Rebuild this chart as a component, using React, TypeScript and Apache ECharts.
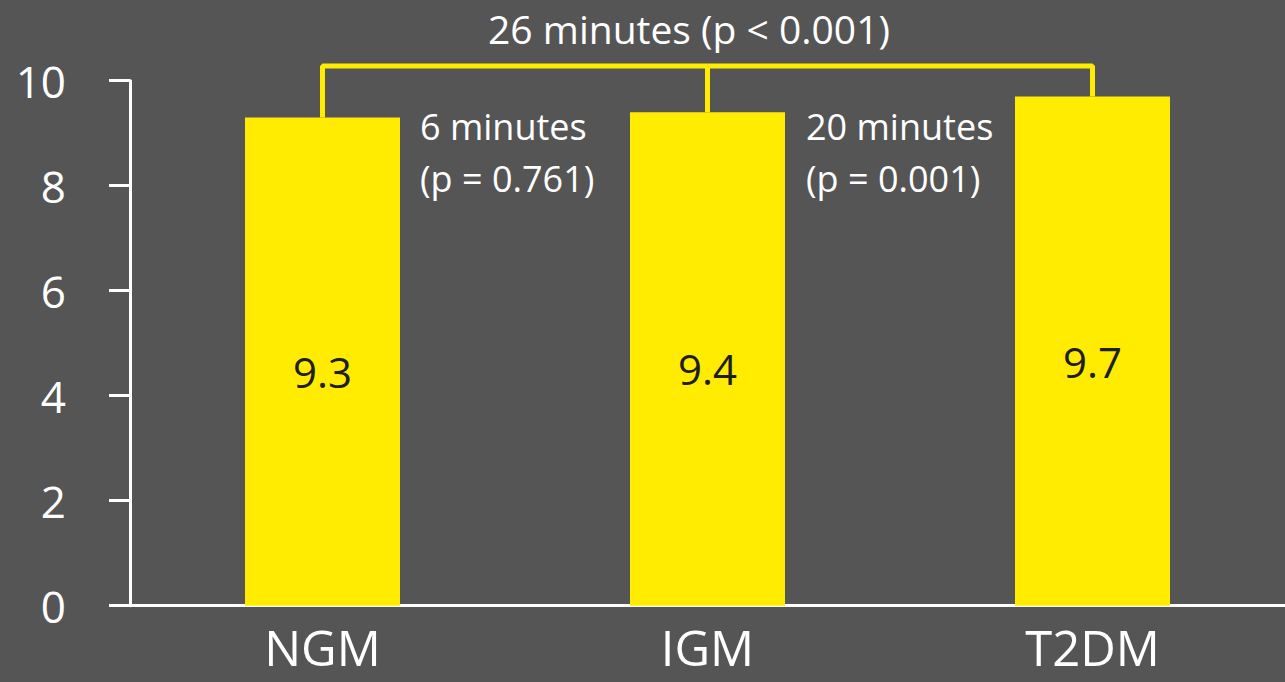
import React, { useEffect, useRef } from "react";
import * as echarts from "echarts";

// Groups and their mean values (hours)
const categories = ["NGM", "IGM", "T2DM"];
const values = [9.3, 9.4, 9.7];
const yTicks = { min: 0, max: 10, interval: 2 };

// Comparison bracket: height of the crossbar and the drops down to each bar
const bracketLevel = 10.28;
const bracketOuter: [string, number][] = [
  ["NGM", 9.3],
  ["NGM", bracketLevel],
  ["T2DM", bracketLevel],
  ["T2DM", 9.7],
];
const bracketMiddle: [string, number][] = [
  ["IGM", bracketLevel],
  ["IGM", 9.4],
];

// Annotation texts
const overallNote = "26 minutes (p < 0.001)";
const leftNote = ["6 minutes", "(p = 0.761)"];
const rightNote = ["20 minutes", "(p = 0.001)"];

const YELLOW = "#FFEC00";
const BG = "#555555";
const FONT = "'Open Sans', 'Noto Sans', sans-serif";

export default function App() {
  const ref = useRef<HTMLDivElement>(null);

  useEffect(() => {
    if (!ref.current) return;
    const chart = echarts.init(ref.current, undefined, { renderer: "svg" });

    const noteStyle = { fill: "#ffffff", fontSize: 36, fontFamily: FONT };

    chart.setOption({
      animation: false,
      backgroundColor: BG,
      grid: { left: 130, right: 0, top: 80.7, bottom: 76.3, containLabel: false },
      xAxis: {
        type: "category",
        data: categories,
        axisLine: { show: true, lineStyle: { color: "#ffffff", width: 3 } },
        axisTick: { show: false },
        axisLabel: {
          color: "#ffffff",
          fontSize: 49,
          lineHeight: 49,
          fontFamily: FONT,
          margin: 17,
        },
      },
      yAxis: {
        type: "value",
        min: yTicks.min,
        max: yTicks.max,
        interval: yTicks.interval,
        axisLine: { show: true, lineStyle: { color: "#ffffff", width: 3 } },
        axisTick: { show: true, length: 21, lineStyle: { color: "#ffffff", width: 3 } },
        axisLabel: { color: "#ffffff", fontSize: 44, fontFamily: FONT, margin: 64 },
        splitLine: { show: false },
      },
      graphic: [
        {
          type: "text",
          x: 689,
          y: 8,
          style: {
            ...noteStyle,
            fontSize: 39,
            lineHeight: 40,
            text: overallNote,
            align: "center",
          },
        },
        {
          type: "text",
          x: 420,
          y: 100,
          style: { ...noteStyle, text: leftNote.join("\n"), lineHeight: 52 },
        },
        {
          type: "text",
          x: 806,
          y: 100,
          style: { ...noteStyle, text: rightNote.join("\n"), lineHeight: 52 },
        },
      ],
      series: [
        {
          type: "bar",
          data: values,
          barWidth: 155,
          itemStyle: { color: YELLOW },
          label: {
            show: true,
            position: "inside",
            offset: [0, 10],
            color: "#1e1e1e",
            fontSize: 42,
            fontFamily: FONT,
          },
          z: 2,
        },
        {
          type: "line",
          data: bracketOuter,
          clip: false,
          symbol: "none",
          lineStyle: { color: YELLOW, width: 5 },
          z: 3,
        },
        {
          type: "line",
          data: bracketMiddle,
          clip: false,
          symbol: "none",
          lineStyle: { color: YELLOW, width: 5 },
          z: 3,
        },
      ],
    });

    return () => chart.dispose();
  }, []);

  return (
    <div
      ref={ref}
      style={{ position: "fixed", left: 0, top: 0, width: 1285, height: 682 }}
    />
  );
}
